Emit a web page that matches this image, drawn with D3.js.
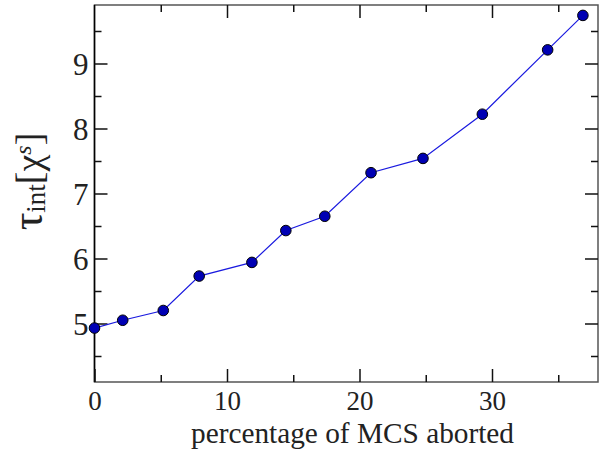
<!DOCTYPE html>
<html>
<head>
<meta charset="utf-8">
<script src="https://cdn.jsdelivr.net/npm/d3@7"></script>
<style>
  html, body { margin: 0; padding: 0; background: #fff; }
  svg { display: block; }
  text { font-family: "Liberation Serif", "Times New Roman", serif; fill: #222; }
</style>
</head>
<body>
<svg id="chart" width="607" height="452"></svg>
<script>
// Data
const percentAborted = [0, 2.13, 5.19, 7.9, 11.88, 14.44, 17.38, 20.87, 24.79, 29.27, 34.2, 36.86];
const tauInt = [4.93, 5.05, 5.2, 5.73, 5.94, 6.43, 6.65, 7.32, 7.54, 8.22, 9.21, 9.74];
const xMajorTicks = [0, 10, 20, 30];
const xMinorTicks = [5, 15, 25, 35];
const yMajorTicks = [5, 6, 7, 8, 9];
const yMinorTicks = [4.5, 5.5, 6.5, 7.5, 8.5, 9.5];
const xTitle = "percentage of MCS aborted";

const svg = d3.select("#chart");
const L = 94.5, R = 598, T = 5, B = 382;
const x = d3.scaleLinear().domain([0, 38]).range([L, R]);
const y = d3.scaleLinear().domain([4.1, 9.9]).range([B, T]);

const MAJ = 13, MIN = 7;

// frame
svg.append("rect").attr("x", L).attr("y", T).attr("width", R - L).attr("height", B - T)
  .attr("fill", "none").attr("stroke", "#555").attr("stroke-width", 1.5);
svg.append("line").attr("x1", L).attr("x2", L).attr("y1", T).attr("y2", B)
  .attr("stroke", "#000").attr("stroke-width", 1.5);

// bottom axis (ticks inward)
const xb = svg.append("g").attr("transform", `translate(0,${B})`);
xb.call(d3.axisBottom(x).tickValues(xMajorTicks).tickSize(-MAJ).tickFormat(d3.format("d")).tickPadding(9));
xb.select(".domain").remove();
xb.selectAll("text").attr("font-size", 27).attr("font-family", "Liberation Serif").attr("fill", "#222");
const xbm = svg.append("g").attr("transform", `translate(0,${B})`);
xbm.call(d3.axisBottom(x).tickValues(xMinorTicks).tickSize(-MIN).tickFormat(""));
xbm.select(".domain").remove();

// top axis mirror
const xt = svg.append("g").attr("transform", `translate(0,${T})`);
xt.call(d3.axisTop(x).tickValues(xMajorTicks.filter(d => d > 0)).tickSize(-MAJ).tickFormat(""));
xt.select(".domain").remove();
const xtm = svg.append("g").attr("transform", `translate(0,${T})`);
xtm.call(d3.axisTop(x).tickValues(xMinorTicks).tickSize(-MIN).tickFormat(""));
xtm.select(".domain").remove();

// left axis
const yl = svg.append("g").attr("transform", `translate(${L},0)`);
yl.call(d3.axisLeft(y).tickValues(yMajorTicks).tickSize(-MAJ).tickFormat(""));
yl.select(".domain").remove();
const ylm = svg.append("g").attr("transform", `translate(${L},0)`);
ylm.call(d3.axisLeft(y).tickValues(yMinorTicks).tickSize(-MIN).tickFormat(""));
ylm.select(".domain").remove();
svg.append("g").selectAll("text").data(yMajorTicks).enter().append("text")
  .attr("x", L - 6).attr("y", d => y(d) + 11)
  .attr("text-anchor", "end").attr("font-size", 31).text(d => d);

// right axis mirror
const yr = svg.append("g").attr("transform", `translate(${R},0)`);
yr.call(d3.axisRight(y).tickValues(yMajorTicks).tickSize(-MAJ).tickFormat(""));
yr.select(".domain").remove();
const yrm = svg.append("g").attr("transform", `translate(${R},0)`);
yrm.call(d3.axisRight(y).tickValues(yMinorTicks).tickSize(-MIN).tickFormat(""));
yrm.select(".domain").remove();

svg.selectAll(".tick line").attr("stroke", "#111").attr("stroke-width", 1.5);

// data line
const pts = percentAborted.map((d, i) => [d, tauInt[i]]);
svg.append("path").datum(pts)
  .attr("d", d3.line().x(d => x(d[0])).y(d => y(d[1])))
  .attr("fill", "none").attr("stroke", "#1a1adf").attr("stroke-width", 1.2);
svg.selectAll("circle.pt").data(pts).enter().append("circle")
  .attr("class", "pt")
  .attr("cx", d => x(d[0])).attr("cy", d => y(d[1])).attr("r", 5.3)
  .attr("fill", "#0000b4").attr("stroke", "#000").attr("stroke-width", 1);

// x title
svg.append("text").attr("x", 352.5).attr("y", 443).attr("text-anchor", "middle")
  .attr("font-size", 29.3).text(xTitle);

// y title: tau_int [chi_s]
const yt = svg.append("text").attr("transform", "translate(42,181.5) rotate(-90)")
  .attr("text-anchor", "middle").attr("font-size", 38);
yt.append("tspan").attr("font-size", 44).text("τ");
yt.append("tspan").attr("font-size", 27).attr("dy", 3).text("int");
yt.append("tspan").attr("dy", -3).text("[");
yt.append("tspan").text("χ");
yt.append("tspan").attr("font-size", 24).attr("font-style", "italic").attr("dy", -11).text("s");
yt.append("tspan").attr("dy", 11).text("]");
</script>
</body>
</html>
